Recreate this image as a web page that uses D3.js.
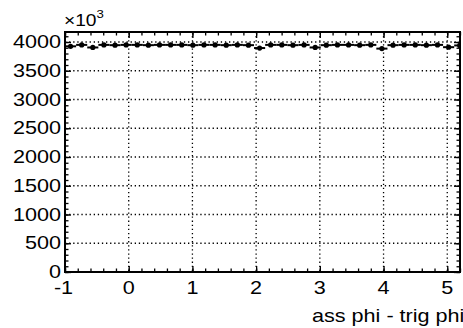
<!DOCTYPE html>
<html>
<head>
<meta charset="utf-8">
<script src="https://cdn.jsdelivr.net/npm/d3@7"></script>
<style>
  body { margin: 0; background: #fff; }
  text { font-family: "Liberation Sans", Arial, sans-serif; fill: #000; }
</style>
</head>
<body>
<div id="chart"></div>
<script>
// 36 bins of width 2pi/36 starting at -1
const binStart = -1
const binWidth = 2 * Math.PI / 36
const counts = [
  3925, 3950, 3905, 3950, 3945, 3950, 3950, 3945, 3950, 3950, 3950, 3945,
  3950, 3950, 3945, 3950, 3945, 3895, 3950, 3950, 3945, 3950, 3905, 3945,
  3950, 3950, 3945, 3950, 3885, 3945, 3950, 3950, 3945, 3950, 3910, 3940
]
const xTicks = [-1, 0, 1, 2, 3, 4, 5]
const yTicks = [0, 500, 1000, 1500, 2000, 2500, 3000, 3500, 4000]
const xTitle = 'ass phi - trig phi'

const width = 463
const height = 328
const frame = { left: 65, right: 460, top: 32, bottom: 272 }
const stretch = 1.2 // labels look horizontally stretched

const x = d3.scaleLinear().domain([-1, 5.2]).range([frame.left, frame.right])
const y = d3.scaleLinear().domain([0, 4174]).range([frame.bottom, frame.top])

const data = counts.map((c, i) => ({
  lo: binStart + i * binWidth,
  mid: binStart + (i + 0.5) * binWidth,
  hi: binStart + (i + 1) * binWidth,
  v: c
}))

const svg = d3.select('#chart').append('svg')
  .attr('width', width)
  .attr('height', height)

svg.append('defs').append('clipPath').attr('id', 'clip')
  .append('rect')
  .attr('x', frame.left).attr('y', frame.top)
  .attr('width', frame.right - frame.left)
  .attr('height', frame.bottom - frame.top)

// dotted grid
const grid = svg.append('g').attr('stroke', '#000').attr('stroke-width', 1.3).attr('stroke-dasharray', '1.3,2.8')
grid.selectAll('.gx').data(xTicks.slice(1)).join('line')
  .attr('x1', d => x(d)).attr('x2', d => x(d))
  .attr('y1', frame.top).attr('y2', frame.bottom)
grid.selectAll('.gy').data(yTicks.slice(1)).join('line')
  .attr('x1', frame.left).attr('x2', frame.right)
  .attr('y1', d => y(d)).attr('y2', d => y(d))

// axes: ticks drawn inward, mirrored on top/right
const xMinor = d3.range(-1, 5.2001, 0.2)
const yMinor = d3.range(0, 4174, 100)

const bottomAxis = d3.axisBottom(x).tickValues(xTicks).tickSize(-6).tickFormat('')
const bottomMinor = d3.axisBottom(x).tickValues(xMinor).tickSize(-3.5).tickFormat('')
const topAxis = d3.axisTop(x).tickValues(xTicks).tickSize(-6).tickFormat('')
const topMinor = d3.axisTop(x).tickValues(xMinor).tickSize(-3.5).tickFormat('')
const leftAxis = d3.axisLeft(y).tickValues(yTicks).tickSize(-6).tickFormat('')
const leftMinor = d3.axisLeft(y).tickValues(yMinor).tickSize(-3.5).tickFormat('')
const rightAxis = d3.axisRight(y).tickValues(yTicks).tickSize(-6).tickFormat('')
const rightMinor = d3.axisRight(y).tickValues(yMinor).tickSize(-3.5).tickFormat('')

const styleAxis = g => {
  g.select('.domain').remove()
  g.selectAll('.tick line').attr('stroke', '#000').attr('stroke-width', 1.3)
}

svg.append('g').attr('transform', `translate(0,${frame.bottom})`).call(bottomAxis).call(styleAxis)
svg.append('g').attr('transform', `translate(0,${frame.bottom})`).call(bottomMinor).call(styleAxis)
svg.append('g').attr('transform', `translate(0,${frame.top})`).call(topAxis).call(styleAxis)
svg.append('g').attr('transform', `translate(0,${frame.top})`).call(topMinor).call(styleAxis)
svg.append('g').attr('transform', `translate(${frame.left},0)`).call(leftAxis).call(styleAxis)
svg.append('g').attr('transform', `translate(${frame.left},0)`).call(leftMinor).call(styleAxis)
svg.append('g').attr('transform', `translate(${frame.right},0)`).call(rightAxis).call(styleAxis)
svg.append('g').attr('transform', `translate(${frame.right},0)`).call(rightMinor).call(styleAxis)

// frame
svg.append('rect')
  .attr('x', frame.left).attr('y', frame.top)
  .attr('width', frame.right - frame.left)
  .attr('height', frame.bottom - frame.top)
  .attr('fill', 'none').attr('stroke', '#000').attr('stroke-width', 2)

// tick labels
svg.append('g').selectAll('text').data(xTicks).join('text')
  .attr('transform', d => `translate(${x(d) - (d < 0 ? 1.5 : 0)},293.5) scale(${stretch},1)`)
  .attr('text-anchor', 'middle')
  .attr('font-size', 18)
  .text(d => d)

svg.append('g').selectAll('text').data(yTicks).join('text')
  .attr('transform', d => `translate(61,${y(d) + 6}) scale(${stretch},1)`)
  .attr('text-anchor', 'end')
  .attr('font-size', 18)
  .text(d => d)

// exponent
const expo = svg.append('text')
  .attr('transform', `translate(64,26) scale(${stretch},1)`)
  .attr('font-size', 16)
expo.append('tspan').text('×10')
expo.append('tspan').attr('font-size', 11).attr('dy', -8).text('3')

// axis title
svg.append('text')
  .attr('transform', `translate(312,322) scale(${stretch},1)`)
  .attr('font-size', 18)
  .text(xTitle)

// histogram points with bin-width bars
const pts = svg.append('g').attr('clip-path', 'url(#clip)')
pts.selectAll('line').data(data).join('line')
  .attr('x1', d => x(d.lo)).attr('x2', d => x(d.hi))
  .attr('y1', d => y(d.v)).attr('y2', d => y(d.v))
  .attr('stroke', '#000').attr('stroke-width', 2)
pts.selectAll('circle').data(data).join('circle')
  .attr('cx', d => x(d.mid)).attr('cy', d => y(d.v))
  .attr('r', 2.6)
  .attr('fill', '#000')
</script>
</body>
</html>
